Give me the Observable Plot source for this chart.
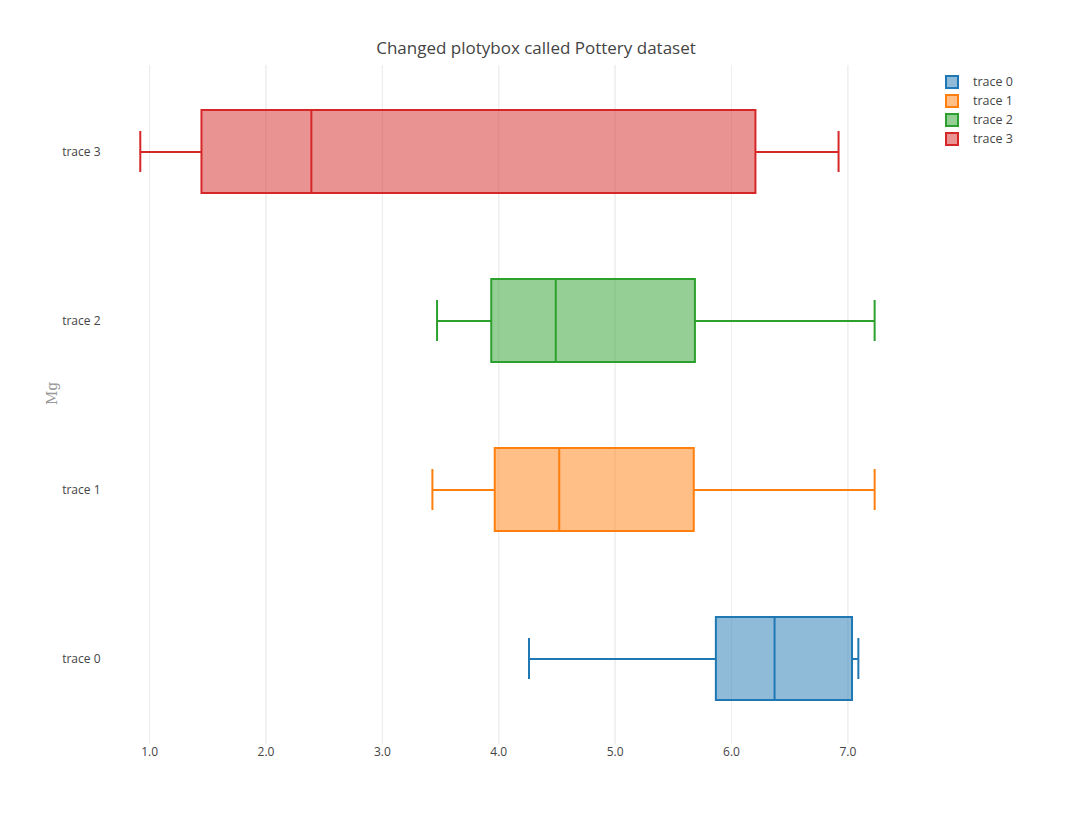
<!DOCTYPE html>
<html><head><meta charset="utf-8">
<script src="https://cdn.jsdelivr.net/npm/d3@7"></script>
<script src="https://cdn.jsdelivr.net/npm/@observablehq/plot@0.6"></script>
<style>
body{margin:0;font-family:"Open Sans",sans-serif;background:#fff}
#wrap{position:relative;width:1072px;height:824px}
#title{position:absolute;top:36px;left:0;width:1072px;text-align:center;font-size:17px;color:#444}
#legend{position:absolute;left:945px;top:72px;font-size:12.5px;color:#444}
#legend div{height:19px;display:flex;align-items:center}
#legend span.sw{width:10px;height:10px;border:2px solid;margin-right:14px;display:inline-block}
</style></head><body>
<div id="wrap"><div id="title">Changed plotybox called Pottery dataset</div><div id="chart"></div><div id="legend"></div></div>
<script>
const traces = ["trace 0","trace 1","trace 2","trace 3"];
const colors = ["#1f77b4","#ff7f0e","#2ca02c","#d62728"];
const lows = [4.26, 3.43, 3.47, 0.92];
const q1s = [5.87, 3.97, 3.94, 1.45];
const medians = [6.37, 4.52, 4.49, 2.39];
const q3s = [7.04, 5.68, 5.69, 6.21];
const highs = [7.09, 7.23, 7.23, 6.92];

const data = traces.map((t,i)=>({t, c:colors[i], lo:lows[i], q1:q1s[i], med:medians[i], q3:q3s[i], hi:highs[i]}));

const chart = Plot.plot({
  width: 1072, height: 824,
  marginLeft: 120, marginRight: 142, marginTop: 65, marginBottom: 80,
  style: {fontFamily: "Open Sans", fontSize: "12px", color: "#444"},
  x: {domain: [0.75, 7.71], ticks: [1,2,3,4,5,6,7], tickSize: 0, tickPadding: 3, label: null, grid: true},
  y: {domain: [...traces].reverse(), padding: 0, tickSize: 0, tickPadding: 20, label: null},
  marks: [
    Plot.gridX([1,2,3,4,5,6,7], {stroke: "#eee", strokeOpacity: 1}),
    Plot.ruleY(data, {y: "t", x1: "lo", x2: "q1", stroke: "c", strokeWidth: 2}),
    Plot.ruleY(data, {y: "t", x1: "q3", x2: "hi", stroke: "c", strokeWidth: 2}),
    Plot.tickX(data, {y: "t", x: "lo", stroke: "c", strokeWidth: 2, insetTop: 64, insetBottom: 64}),
    Plot.tickX(data, {y: "t", x: "hi", stroke: "c", strokeWidth: 2, insetTop: 64, insetBottom: 64}),
    Plot.barX(data, {y: "t", x1: "q1", x2: "q3", fill: "c", fillOpacity: 0.5, stroke: "c", strokeWidth: 2, insetTop: 43, insetBottom: 43}),
    Plot.tickX(data, {y: "t", x: "med", stroke: "c", strokeWidth: 2, insetTop: 43, insetBottom: 43}),
    Plot.text(["Mg"], {frameAnchor: "left", dx: -68, rotate: -90, fill: "#999", fontSize: 14, fontFamily: "DejaVu Serif"})
  ]
});
document.getElementById("chart").append(chart);
const lg = d3.select("#legend");
traces.forEach((t,i)=>{
  const r = lg.append("div");
  r.append("span").attr("class","sw").style("border-color",colors[i]).style("background",d3.color(colors[i]).copy({opacity:0.5}));
  r.append("span").text(t);
});
</script></body></html>
